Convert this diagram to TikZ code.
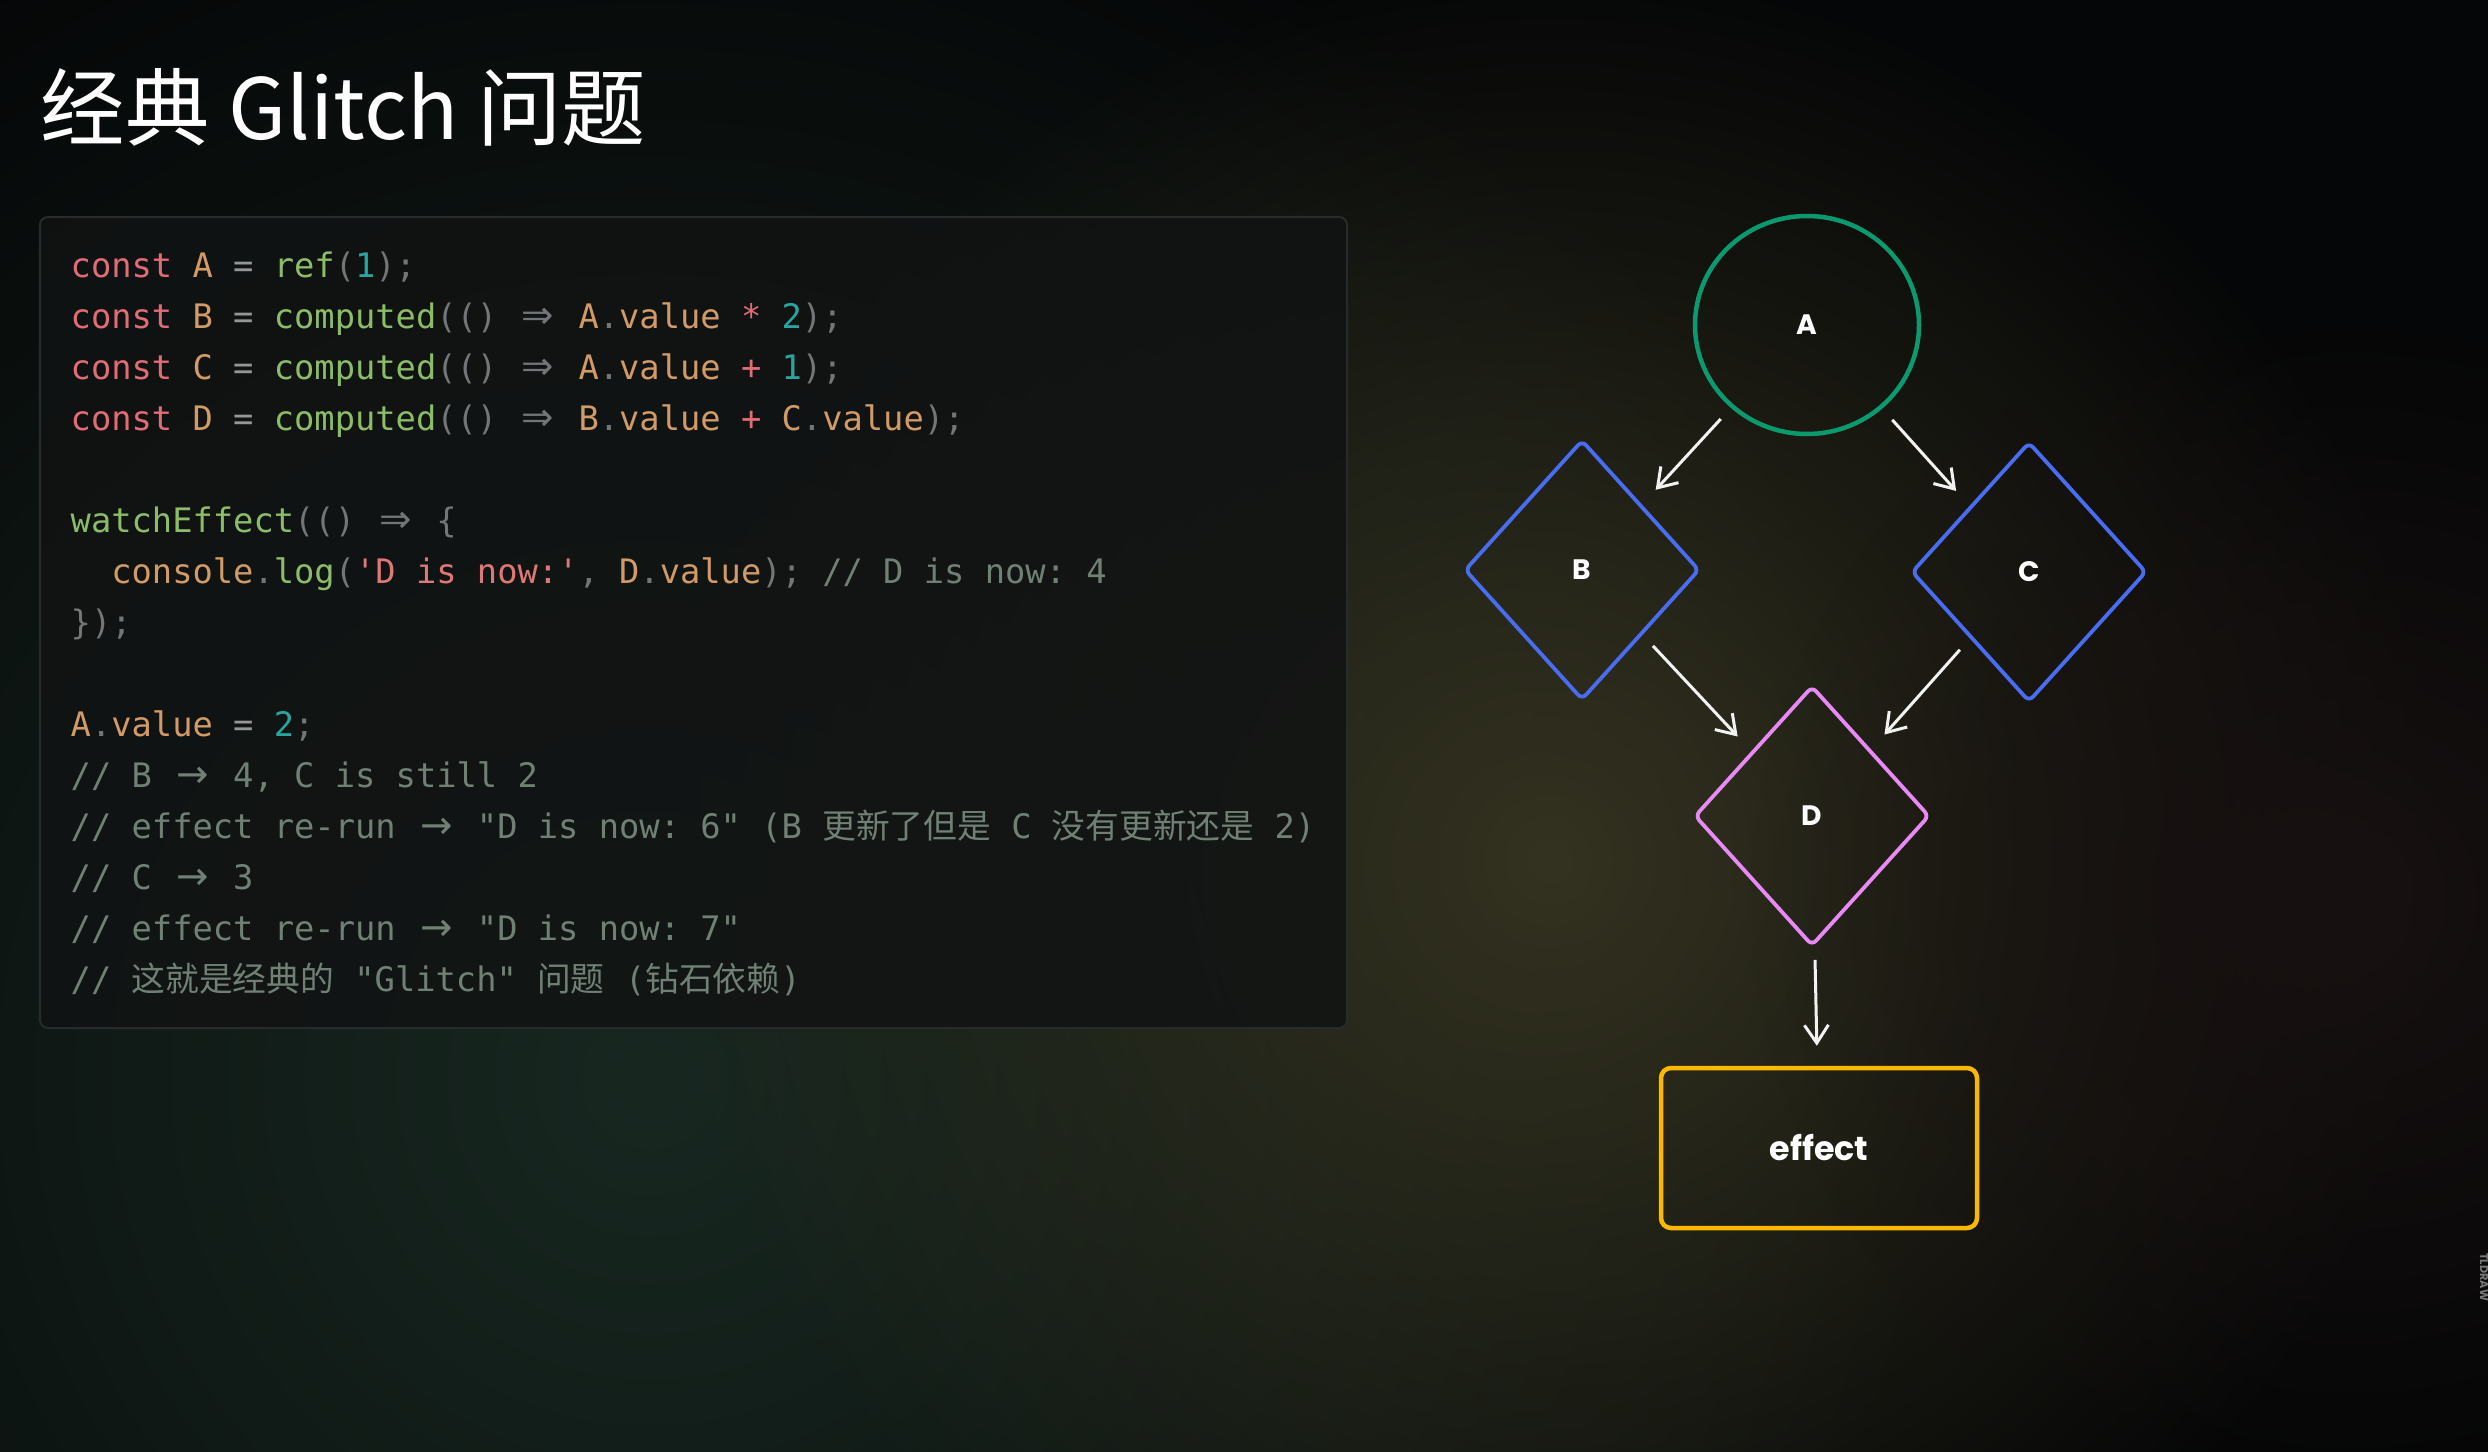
\documentclass[tikz,border=0pt]{standalone}
\usepackage{fontspec}
\setmainfont{Noto Sans CJK SC}
\setmonofont{DejaVu Sans Mono}
\newfontfamily\cjk{Noto Sans CJK SC}
\newfontfamily\hand{Poppins}
\newfontfamily\arrowfont{DejaVu Sans}
\usetikzlibrary{arrows.meta,shapes.geometric,fadings}

\definecolor{bgbase}{RGB}{5,6,7}
\definecolor{glowgreen}{RGB}{24,40,33}
\definecolor{glowolive}{RGB}{52,50,32}
\definecolor{glowred}{RGB}{24,17,17}
\definecolor{boxfill}{RGB}{17,19,19}
\definecolor{boxline}{RGB}{40,43,43}
\definecolor{kwred}{RGB}{224,108,117}
\definecolor{vartan}{RGB}{209,154,102}
\definecolor{fngreen}{RGB}{140,188,104}
\definecolor{numteal}{RGB}{38,166,158}
\definecolor{pungray}{RGB}{115,118,120}
\definecolor{opgray}{RGB}{150,150,150}
\definecolor{strpink}{RGB}{222,120,118}
\definecolor{comgray}{RGB}{112,128,116}
\definecolor{agreen}{RGB}{11,154,109}
\definecolor{bblue}{RGB}{74,108,240}
\definecolor{dviolet}{RGB}{232,138,245}
\definecolor{eyellow}{RGB}{250,185,0}
\definecolor{arrwhite}{RGB}{242,242,242}
\definecolor{wmgray}{RGB}{120,120,120}

\tikzfading[name=glow, inner color=transparent!0, outer color=transparent!100]

% syntax colours
\newcommand\ckw[1]{\textcolor{kwred}{#1}}
\newcommand\cvar[1]{\textcolor{vartan}{#1}}
\newcommand\cfn[1]{\textcolor{fngreen}{#1}}
\newcommand\cnum[1]{\textcolor{numteal}{#1}}
\newcommand\cpu[1]{\textcolor{pungray}{#1}}
\newcommand\cop[1]{\textcolor{opgray}{#1}}
\newcommand\cstr[1]{\textcolor{strpink}{#1}}
\newcommand\ccom[1]{\textcolor{comgray}{#1}}
% two-column arrow ligature
\newcommand\lig[1]{\makebox[1.204em][c]{\arrowfont\fontsize{11}{11}\selectfont #1}}

\begin{document}
\begin{tikzpicture}[
  codeline/.style={anchor=base west, inner sep=0pt, font=\ttfamily\fontsize{9.6}{14.5}\selectfont},
  shapelabel/.style={text=white, font=\hand\bfseries\fontsize{8}{8}\selectfont},
  vnode/.style={diamond, draw=bblue, line width=0.038cm, rounded corners=0.06cm,
    minimum width=2.35cm, minimum height=2.6cm, inner sep=0pt, shapelabel},
  arr/.style={draw=arrwhite, line width=0.03cm, -{Straight Barb[length=0.18cm,width=0.24cm]},
    shorten <=0.15cm, shorten >=0.2cm},
]
  \useasboundingbox (0,0) rectangle (24.88,-14.52);

  % background
  \begin{scope}
    \clip (0,0) rectangle (24.88,-14.52);
    \fill[bgbase] (0,0) rectangle (24.88,-14.52);
    \fill[glowgreen, path fading=glow] (6.5,-10.8) circle (13);
    \fill[glowolive, path fading=glow] (15.5,-8.6) circle (9);
    \fill[glowred, path fading=glow] (23.5,-9.0) circle (6);
  \end{scope}

  % title
  \node[anchor=base west, inner sep=0pt, text=white, font=\fontsize{24}{24}\selectfont]
    (title) at (0.40,-1.40) {经典 Glitch 问题};

  % code box
  \draw[boxline, line width=0.02cm, fill=boxfill, fill opacity=0.85, rounded corners=0.08cm]
    (0.40,-2.17) rectangle (13.47,-10.28);

  \node[codeline] (l1) at (0.70,-2.77) {\ckw{const} \cvar{A} \cop{=} \cfn{ref}\cpu{(}\cnum{1}\cpu{);}};
  \node[codeline] (l2) at (0.70,-3.28) {\ckw{const} \cvar{B} \cop{=} \cfn{computed}\cpu{(()} \cpu{\lig{⇒}} \cvar{A}\cpu{.}\cvar{value} \ckw{*} \cnum{2}\cpu{);}};
  \node[codeline] (l3) at (0.70,-3.79) {\ckw{const} \cvar{C} \cop{=} \cfn{computed}\cpu{(()} \cpu{\lig{⇒}} \cvar{A}\cpu{.}\cvar{value} \ckw{+} \cnum{1}\cpu{);}};
  \node[codeline] (l4) at (0.70,-4.30) {\ckw{const} \cvar{D} \cop{=} \cfn{computed}\cpu{(()} \cpu{\lig{⇒}} \cvar{B}\cpu{.}\cvar{value} \ckw{+} \cvar{C}\cpu{.}\cvar{value}\cpu{);}};

  \node[codeline] (l5) at (0.70,-5.32) {\cfn{watchEffect}\cpu{(()} \cpu{\lig{⇒}} \cpu{\{}};
  \node[codeline] (l6) at (0.70,-5.83) {\ \ \cvar{console}\cpu{.}\cfn{log}\cpu{(}\cstr{'D is now:'}\cpu{, }\cvar{D}\cpu{.}\cvar{value}\cpu{);} \ccom{// D is now: 4}};
  \node[codeline] (l7) at (0.70,-6.34) {\cpu{\});}};

  \node[codeline] (l8) at (0.70,-7.36) {\cvar{A}\cpu{.}\cvar{value} \cop{=} \cnum{2}\cpu{;}};
  \node[codeline] (l9) at (0.70,-7.87) {\ccom{// B \lig{→} 4, C is still 2}};
  \node[codeline] (l10) at (0.70,-8.38) {\ccom{// effect re-run \lig{→} "D is now: 6" (B {\cjk 更新了但是} C {\cjk 没有更新还是} 2)}};
  \node[codeline] (l11) at (0.70,-8.89) {\ccom{// C \lig{→} 3}};
  \node[codeline] (l12) at (0.70,-9.40) {\ccom{// effect re-run \lig{→} "D is now: 7"}};
  \node[codeline] (l13) at (0.70,-9.91) {\ccom{// {\cjk 这就是经典的} "Glitch" {\cjk 问题} ({\cjk 钻石依赖})}};

  % dependency graph
  \node[ellipse, draw=agreen, line width=0.045cm, minimum width=2.24cm, minimum height=2.18cm, shapelabel]
    (A) at (18.07,-3.25) {A};
  \node[vnode] (B) at (15.82,-5.70) {B};
  \node[vnode] (C) at (20.29,-5.72) {C};
  \node[vnode, draw=dviolet] (D) at (18.12,-8.16) {D};
  \node[draw=eyellow, line width=0.045cm, rounded corners=0.1cm, minimum width=3.16cm, minimum height=1.60cm,
    text=white, font=\hand\bfseries\fontsize{9.5}{9.5}\selectfont] (effect) at (18.19,-11.48) {effect};

  \draw[arr] (A) -- (B);
  \draw[arr] (A) -- (C);
  \draw[arr] (B) -- (D);
  \draw[arr] (C) -- (D);
  \draw[arr] (D) -- (effect);

  % watermark
  \node[rotate=-90, text=wmgray, font=\hand\bfseries\fontsize{3.2}{3.2}\selectfont] (wm) at (24.84,-12.77) {TLDRAW};
\end{tikzpicture}
\end{document}
